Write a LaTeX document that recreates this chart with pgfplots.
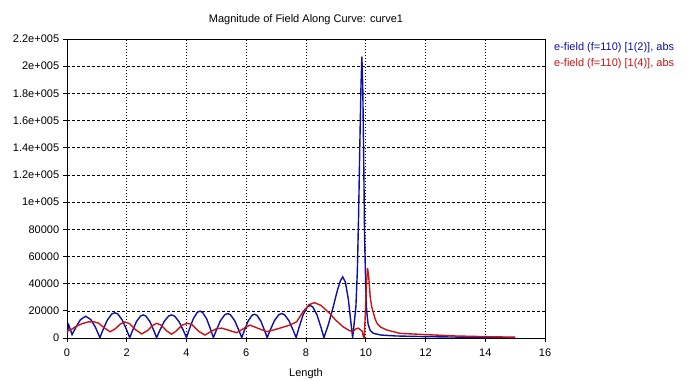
\documentclass[border=0pt]{standalone}
\usepackage{pgfplots}
\pgfplotsset{compat=1.18}
\usepackage{fontspec}
\setmainfont{Liberation Sans}
\definecolor{cblue}{RGB}{15,15,165}
\definecolor{cred}{RGB}{200,20,20}
\begin{document}
\fontsize{11pt}{13pt}\selectfont
\begin{tikzpicture}[x=1pt,y=1pt]
\useasboundingbox (0,0) rectangle (700,380);
\begin{axis}[
  at={(67pt,42pt)}, anchor=south west,
  scale only axis, width=478pt, height=299pt,
  xmin=0, xmax=16, ymin=0, ymax=220000,
  xtick={0,2,4,6,8,10,12,14,16},
  ytick={0,20000,40000,60000,80000,100000,120000,140000,160000,180000,200000,220000},
  yticklabels={0,20000,40000,60000,80000,1e+005,1.2e+005,1.4e+005,1.6e+005,1.8e+005,2e+005,2.2e+005},
  scaled y ticks=false,
  /pgf/number format/assume math mode=true,
  tick pos=left, tick align=outside, major tick length=4pt,
  tick style={black, line width=0.8pt},
  axis line style={black, line width=0.9pt},
  xmajorgrids, ymajorgrids,
  x grid style={black, line width=0.6pt, dash pattern=on 1pt off 2pt},
  y grid style={black, line width=0.6pt, dash pattern=on 3pt off 2pt},
  ticklabel style={font=\fontsize{11pt}{13pt}\selectfont},
  xticklabel style={yshift=-3pt},
  title={Magnitude of Field Along Curve: curve1},
  title style={at={(0.5,1)}, anchor=base, yshift=10pt, font=\fontsize{11pt}{13pt}\selectfont},
  xlabel={Length},
  xlabel style={at={(0.5,0)}, anchor=base, yshift=-38pt, font=\fontsize{11pt}{13pt}\selectfont},
  legend image code/.code={},
  legend cell align=left,
  legend style={at={(1,1)}, anchor=north west, xshift=4pt, yshift=1pt, draw=none, fill=none,
    font=\fontsize{11pt}{13pt}\selectfont, row sep=3pt},
]
\addplot[cblue, line width=1.4pt] coordinates {
(0,2000) (0.06,9500) (0.1,7000) (0.17,2500) (0.3,8000) (0.45,13500) (0.63,16000) (0.8,13500) (0.95,8000) (1.1,300)
(1.2,5770) (1.35,13200) (1.5,17700) (1.6,18600) (1.7,17700) (1.85,13200) (2.0,5770) (2.1,300)
(2.19,5270) (2.325,12070) (2.46,16150) (2.55,17000) (2.64,16150) (2.775,12070) (2.91,5270) (3.0,300)
(3.1,5270) (3.25,12070) (3.4,16150) (3.5,17000) (3.6,16150) (3.75,12070) (3.9,5270) (4.0,300)
(4.09,6140) (4.225,14060) (4.36,18810) (4.45,19800) (4.54,18810) (4.675,14060) (4.81,6140) (4.9,300)
(4.995,5580) (5.1375,12780) (5.28,17100) (5.375,18000) (5.47,17100) (5.6125,12780) (5.755,5580) (5.85,300)
(5.935,5430) (6.0625,12430) (6.19,16630) (6.275,17500) (6.36,16630) (6.4875,12430) (6.615,5430) (6.7,300)
(6.797,5580) (6.9425,12780) (7.088,17100) (7.185,18000) (7.282,17100) (7.4275,12780) (7.573,5580) (7.67,300)
(7.763,7440) (7.9025,17040) (8.042,22800) (8.135,24000) (8.228,22800) (8.3675,17040) (8.507,7440) (8.6,300)
(8.75,10000) (8.9,22000) (9.05,35000) (9.15,42000) (9.23,45000) (9.32,41000) (9.42,28000) (9.5,12000) (9.56,300)
(9.6,8000) (9.67,23000) (9.72,50000) (9.76,90000) (9.8,140000) (9.84,185000) (9.87,207000) (9.9,185000)
(9.93,135000) (9.96,75000) (10.0,38000) (10.03,20000) (10.08,10000) (10.15,5500) (10.25,3500) (10.5,2200)
(11,1500) (12,1000) (13,700) (14,400) (15,300)
};
\addlegendentry[text=cblue]{e-field (f=110) [1(2)], abs}
\addplot[cred, line width=1.4pt] coordinates {
(0,5000) (0.16,6500) (0.3,8500) (0.5,10500) (0.7,11800) (0.88,12000) (1.05,11000) (1.25,7500) (1.44,4600)
(1.6,6500) (1.8,10500) (1.94,11800) (2.1,10500) (2.3,6000) (2.5,3000) (2.7,5500) (2.85,9000) (3.0,10800)
(3.15,9500) (3.35,5000) (3.5,2800) (3.65,5000) (3.85,9500) (4.03,10800) (4.18,10000) (4.4,5000) (4.62,2200)
(4.8,4500) (5.0,6800) (5.18,7300) (5.4,5800) (5.68,3900) (5.9,6800) (6.12,9500) (6.35,7500) (6.68,4700)
(6.9,5800) (7.13,7300) (7.46,9500) (7.69,12000) (7.9,19300) (8.1,24500) (8.28,26000) (8.5,24000) (8.8,18000)
(9.0,13000) (9.24,8300) (9.45,5500) (9.57,4600) (9.65,6500) (9.75,7300) (9.82,6000) (9.88,5000) (9.92,1000)
(9.95,200) (9.98,15000) (10.02,38000) (10.06,51500) (10.1,45000) (10.15,30000) (10.2,23000) (10.3,15000)
(10.37,11000) (10.5,8000) (10.7,5900) (11.15,3400) (12,2500) (13,1500) (14,1000) (15,600)
};
\addlegendentry[text=cred]{e-field (f=110) [1(4)], abs}
\end{axis}
\end{tikzpicture}
\end{document}
